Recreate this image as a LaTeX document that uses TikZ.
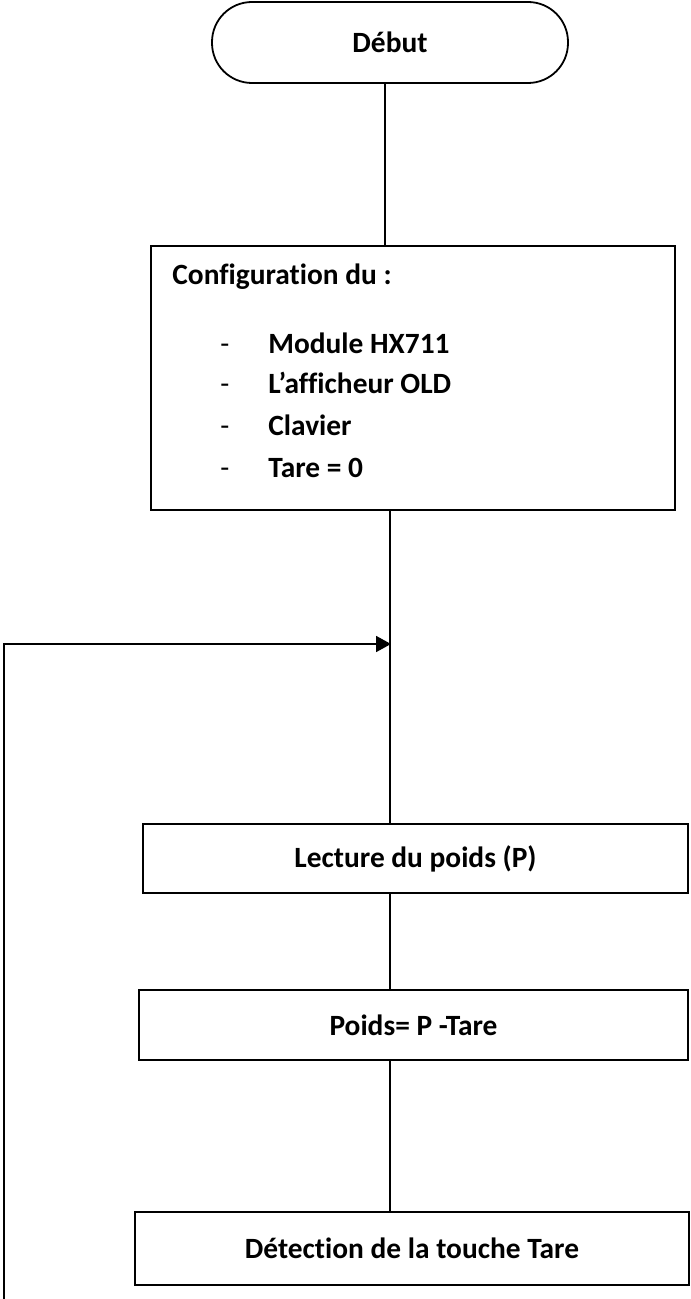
\documentclass[tikz,border=0pt]{standalone}
\usepackage{fontspec}
\setmainfont{Carlito}[Ligatures=NoCommon]
\usetikzlibrary{arrows.meta, positioning}

\tikzset{
  terminal/.style={draw, line width=0.9pt, rounded corners=20pt,
    minimum width=178pt, minimum height=40.5pt, inner sep=0pt},
  procbox/.style={draw, line width=1.2pt, inner sep=0pt},
  itemtext/.style={anchor=base west, inner sep=0pt},
  dashmark/.style={anchor=base west, inner sep=0pt, font=\fontsize{14.7}{17}\selectfont\mdseries},
  flow/.style={line width=0.9pt},
}

\begin{document}
\begin{tikzpicture}[x=0.5pt, y=-0.5pt, font=\fontsize{14.7}{17}\selectfont\bfseries]
    \fill[white] (0,0) rectangle (690,1299);
    \useasboundingbox (0,0) rectangle (690,1299);

    % start
    \node[terminal] (debut) at (390,42.5) {Début};

    % configuration block
    \node[procbox, minimum width=262pt, minimum height=132pt] (config) at (413,378) {};
    \node[itemtext] (cfgtitle) at (172,285) {Configuration du :};
    \foreach \y/\txt [count=\i] in {353/Module HX711, 393/L’afficheur OLD, 435/Clavier, 477/Tare = 0} {
        \node[dashmark] (dash\i) at (220,\y) {-};
        \node[itemtext] (item\i) at (268,\y) {\txt};
    }

    % main loop
    \node[procbox, minimum width=272.5pt, minimum height=34.5pt] (lecture) at (415.5,858.5) {Lecture du poids (P)};
    \node[procbox, minimum width=274.5pt, minimum height=35pt] (poids) at (413.5,1025) {Poids= P -Tare};
    \node[procbox, minimum width=277pt, minimum height=36.5pt] (detect) at (412,1248.5) {Détection de la touche Tare};

    \coordinate (spine0) at (385,0);
    \coordinate (spine) at (390,0);
    \coordinate (entree) at (391,644);
    \coordinate (retour) at (4,1299);

    \draw[flow] (debut.south -| spine0) -- (config.north -| spine0);
    \draw[flow] (config.south -| spine) -- (lecture.north -| spine);
    \draw[flow] (lecture.south -| spine) -- (poids.north -| spine);
    \draw[flow] (poids.south -| spine) -- (detect.north -| spine);

    % back to the reading step
    \draw[flow, -{Triangle[length=7.5pt, width=8pt]}] (retour) |- (entree);
\end{tikzpicture}
\end{document}
